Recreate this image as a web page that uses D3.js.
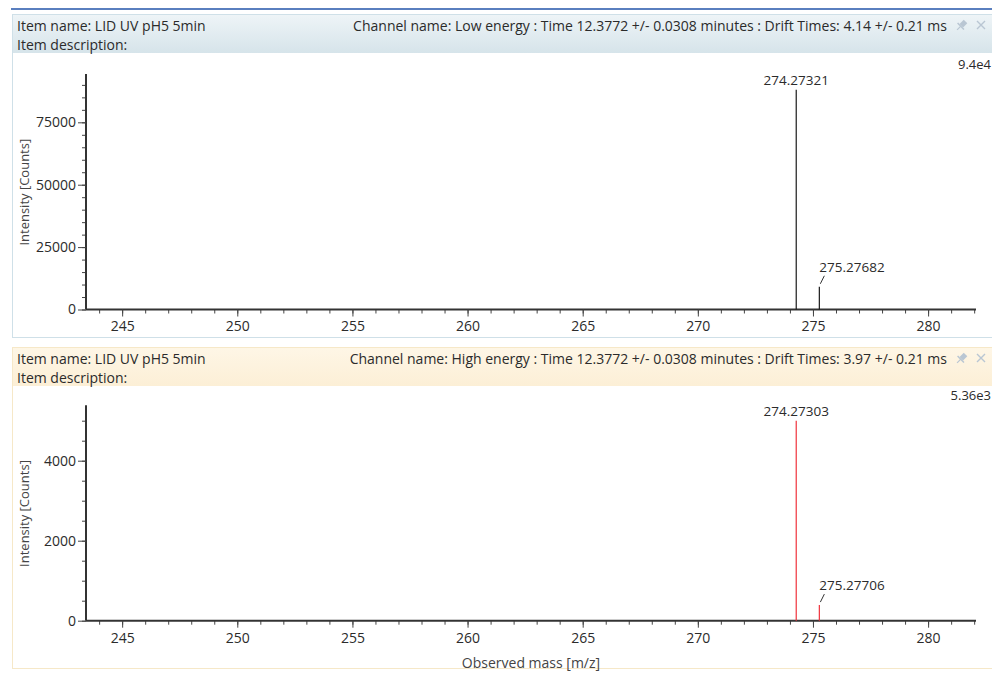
<!DOCTYPE html>
<html>
<head>
<meta charset="utf-8">
<script src="https://cdn.jsdelivr.net/npm/d3@7"></script>
<style>
  body { margin: 0; background: #fff; }
  svg { display: block; font-family: "Open Sans", "Noto Sans", sans-serif; }
</style>
</head>
<body>
<div id="chart"></div>
<script>
// x range of the spectrum (m/z)
const mzDomain = [243.43, 282.08];
const mzTicks = [245, 250, 255, 260, 265, 270, 275, 280];

// low energy channel
const lowPeaksMz = [274.27321, 275.27682];
const lowPeaksIntensity = [88000, 9100];
const lowMax = 94000;
const lowTicks = [0, 25000, 50000, 75000];

// high energy channel
const highPeaksMz = [274.27303, 275.27706];
const highPeaksIntensity = [5000, 390];
const highMax = 5360;
const highTicks = [0, 2000, 4000];

const panels = [
  {
    top: 14, bottom: 337,
    headBg: ["#eef4f7", "#d6e4ea"], border: "#cfe0e8",
    channel: "Channel name: Low energy : Time 12.3772 +/- 0.0308 minutes : Drift Times: 4.14 +/- 0.21 ms",
    mz: lowPeaksMz, inten: lowPeaksIntensity, max: lowMax, maxLabel: "9.4e4",
    ticks: lowTicks, minor: 5000,
    y0: 309.5, y1: 74.9, color: "#1a1a1a", xlabel: false
  },
  {
    top: 347, bottom: 668,
    headBg: ["#fef6e6", "#fcefd6"], border: "#f6e8c8",
    channel: "Channel name: High energy : Time 12.3772 +/- 0.0308 minutes : Drift Times: 3.97 +/- 0.21 ms",
    mz: highPeaksMz, inten: highPeaksIntensity, max: highMax, maxLabel: "5.36e3",
    ticks: highTicks, minor: 500,
    y0: 620.7, y1: 406.3, color: "#f0323c", xlabel: true
  }
];

const width = 992, height = 674;
const svg = d3.select("#chart").append("svg")
  .attr("width", width).attr("height", height);

const defs = svg.append("defs");

// blue line on top of the window
svg.append("rect").attr("x", 11).attr("y", 8).attr("width", width - 11).attr("height", 2)
  .attr("fill", "#5a7fbf");

const x = d3.scaleLinear().domain(mzDomain).range([86, 976]);
const textCol = "#2b2b2b";
const iconCol = "#b9c6d3";

panels.forEach((p, i) => {
  const g = svg.append("g");
  const grad = defs.append("linearGradient").attr("id", "hg" + i)
    .attr("x1", 0).attr("x2", 0).attr("y1", 0).attr("y2", 1);
  grad.append("stop").attr("offset", 0).attr("stop-color", p.headBg[0]);
  grad.append("stop").attr("offset", 1).attr("stop-color", p.headBg[1]);

  g.append("rect").attr("x", 12.5).attr("y", p.top + 0.5)
    .attr("width", width).attr("height", p.bottom - p.top)
    .attr("fill", "#fff").attr("stroke", p.border);
  g.append("rect").attr("x", 13).attr("y", p.top + 1)
    .attr("width", width).attr("height", 38)
    .attr("fill", "url(#hg" + i + ")");

  g.append("text").attr("x", 17).attr("y", p.top + 17)
    .attr("font-size", 14).attr("fill", textCol).text("Item name: LID UV pH5 5min");
  g.append("text").attr("x", 17).attr("y", p.top + 36)
    .attr("font-size", 14).attr("fill", textCol).text("Item description:");
  g.append("text").attr("x", 947).attr("y", p.top + 17).attr("text-anchor", "end")
    .attr("font-size", 14).attr("fill", textCol).text(p.channel);

  // pin icon
  const pin = g.append("g").attr("transform", `translate(962,${p.top + 11}) rotate(45)`)
    .attr("fill", iconCol).attr("stroke", iconCol);
  pin.append("rect").attr("x", -2.5).attr("y", -5).attr("width", 5).attr("height", 6).attr("stroke", "none");
  pin.append("rect").attr("x", -4.5).attr("y", 1).attr("width", 9).attr("height", 1.5).attr("stroke", "none");
  pin.append("line").attr("x1", 0).attr("y1", 2).attr("x2", 0).attr("y2", 7).attr("stroke-width", 1.2);
  // close icon
  g.append("path").attr("d", `M977,${p.top + 7}l8,8M985,${p.top + 7}l-8,8`)
    .attr("stroke", iconCol).attr("stroke-width", 1.4);

  const y = d3.scaleLinear().domain([0, p.max]).range([p.y0, p.y1]);

  // minor ticks
  const minorY = d3.range(0, p.max + 1, p.minor);
  g.append("g").attr("transform", `translate(86,0)`)
    .call(d3.axisLeft(y).tickValues(minorY).tickSize(4).tickFormat(""))
    .call(a => a.select(".domain").remove())
    .selectAll("line").attr("stroke", "#444");
  const minorX = d3.range(244, 283, 1);
  g.append("g").attr("transform", `translate(0,${p.y0})`)
    .call(d3.axisBottom(x).tickValues(minorX).tickSize(4).tickFormat(""))
    .call(a => a.select(".domain").remove())
    .selectAll("line").attr("stroke", "#444");

  // major axes
  const ya = g.append("g").attr("transform", `translate(86,0)`)
    .call(d3.axisLeft(y).tickValues(p.ticks).tickFormat(d3.format("d"))
      .tickSize(8).tickPadding(2).tickSizeOuter(0));
  ya.select(".domain").attr("stroke", "#333").attr("stroke-width", 2)
    .attr("d", `M0,${p.y0}V${p.y1 - 1}`);
  ya.selectAll("line").attr("stroke", "#444");
  ya.selectAll("text").attr("font-size", 14).attr("fill", textCol)
    .attr("font-family", "\"Open Sans\", sans-serif");

  const xa = g.append("g").attr("transform", `translate(0,${p.y0})`)
    .call(d3.axisBottom(x).tickValues(mzTicks).tickSize(7).tickPadding(5).tickSizeOuter(0));
  xa.select(".domain").attr("stroke", "#333").attr("stroke-width", 2)
    .attr("d", `M86,0H976`);
  xa.selectAll("line").attr("stroke", "#444");
  xa.selectAll("text").attr("font-size", 14).attr("fill", textCol)
    .attr("font-family", "\"Open Sans\", sans-serif");

  // y title
  const cy = (p.y0 + p.y1) / 2;
  g.append("text").attr("transform", `translate(29,${cy}) rotate(-90)`)
    .attr("text-anchor", "middle").attr("font-size", 13).attr("fill", "#444")
    .text("Intensity [Counts]");

  if (p.xlabel) {
    g.append("text").attr("x", 531).attr("y", p.y0 + 47).attr("text-anchor", "middle")
      .attr("font-size", 14).attr("fill", "#444").text("Observed mass [m/z]");
  }

  // max label, kept inside the window
  g.append("text").attr("x", 991).attr("y", p.y1 - 6).attr("text-anchor", "end")
    .attr("font-size", 13).attr("fill", textCol).text(p.maxLabel);

  // peaks
  const peaks = p.mz.map((m, k) => ({ mz: m, v: p.inten[k] }));
  g.append("g").selectAll("line").data(peaks).join("line")
    .attr("x1", d => x(d.mz)).attr("x2", d => x(d.mz))
    .attr("y1", p.y0).attr("y2", d => y(d.v))
    .attr("stroke", p.color).attr("stroke-width", 1.2);

  // labels: main peak centred, small one offset with a leader
  g.append("text").attr("x", x(peaks[0].mz)).attr("y", y(peaks[0].v) - 5)
    .attr("text-anchor", "middle").attr("font-size", 13.5).attr("fill", textCol)
    .text(peaks[0].mz.toFixed(5));
  const sx = x(peaks[1].mz), sy = y(peaks[1].v);
  g.append("line").attr("x1", sx + 1).attr("y1", sy - 3).attr("x2", sx + 5).attr("y2", sy - 11)
    .attr("stroke", "#333").attr("stroke-width", 1);
  g.append("text").attr("x", sx).attr("y", sy - 15)
    .attr("font-size", 13.5).attr("fill", textCol).text(peaks[1].mz.toFixed(5));
});
</script>
</body>
</html>
